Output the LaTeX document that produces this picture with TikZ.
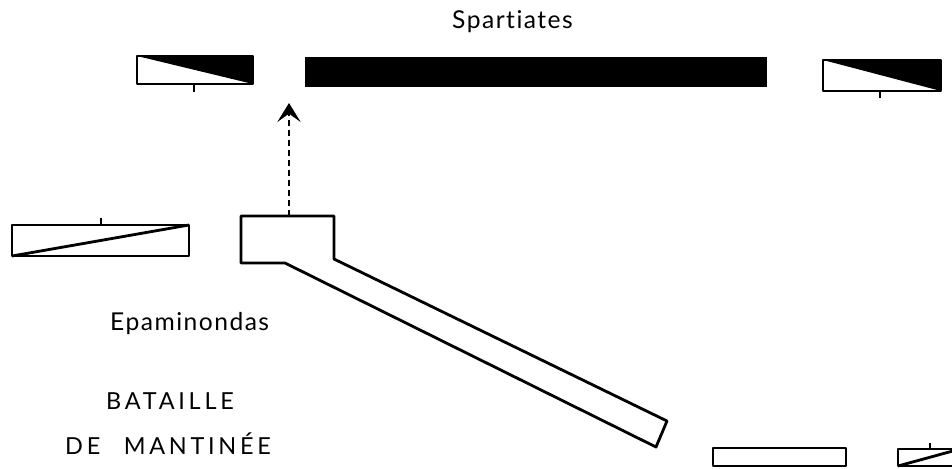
\documentclass[tikz,border=0pt]{standalone}
\usepackage{fontspec}
\setmainfont[Ligatures={NoCommon}]{Lato}
\usetikzlibrary{arrows.meta}

\begin{document}
\begin{tikzpicture}[x=0.03cm, y=-0.03cm,
    trait/.style={line width=2.4pt, line join=round},
    tick/.style={line width=1.8pt},
    texte/.style={inner sep=0pt, anchor=base west,
        font=\fontsize{21}{21}\selectfont\addfontfeatures{LetterSpace=6}},
    titre/.style={inner sep=0pt, anchor=base west,
        font=\fontsize{20}{20}\selectfont\addfontfeatures{LetterSpace=16}}]
    \useasboundingbox (0,0) rectangle (952,468);
    \clip (0,0) rectangle (952,468);

    % Textes
    \node (spartiates) [texte] at (452,28) {Spartiates};
    \node (epaminondas) [texte] at (110,330) {Epaminondas};
    \node (bataille) [titre] at (106,409) {BATAILLE};
    \node (mantinee) [titre] at (65,454) {DE\hspace{20pt}MANTINÉE};

    % Spartiates : ailes et centre
    \fill[black] (137,56) -- (253,56) -- (253,84) -- cycle;
    \draw[trait] (137,56) rectangle (253,84);
    \draw[tick] (194,84) -- (194,92);
    \fill (305,57) rectangle (767,87);
    \fill[black] (823,60) -- (941,60) -- (941,91) -- cycle;
    \draw[trait] (823,60) rectangle (941,91);
    \draw[tick] (880,91) -- (880,98);

    % Thebains : aile gauche
    \draw[trait] (12,225) rectangle (189,256);
    \draw[trait] (12,256) -- (189,225);
    \draw[tick] (101,225) -- (101,218);

    % Colonne d'Epaminondas
    \draw[trait] (241,216) -- (334,216) -- (334,259) -- (667,421)
        -- (656,447) -- (285,263) -- (241,263) -- cycle;
    \coordinate (colonne) at (289,216);
    \coordinate (cible) at (289,103);
    \draw[line width=1.8pt, dash pattern=on 5.5pt off 3pt,
        -{Stealth[length=0.57cm, width=0.7cm, inset=0.25cm]}] (colonne) -- (cible);

    % Thebains : aile droite
    \draw[trait] (713,448) rectangle (846,466);
    \draw[trait] (898,449) rectangle (990,466);
    \draw[trait] (898,466) -- (960,449);
    \draw[tick] (930,449) -- (930,443);
\end{tikzpicture}
\end{document}
